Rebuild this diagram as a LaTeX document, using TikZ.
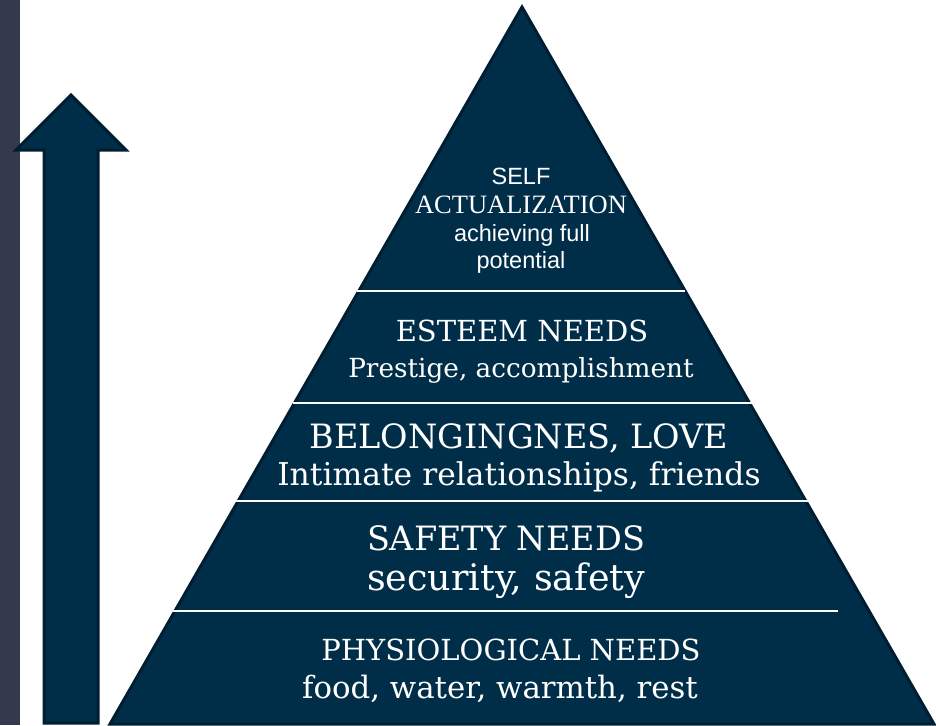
\documentclass[tikz,border=0pt]{standalone}
\usepackage{fontspec}
\setmainfont{DejaVu Serif}
\newfontfamily\tipsans{Liberation Sans}
\newfontfamily\tipserif{Liberation Serif}
\usetikzlibrary{positioning}
\definecolor{navy}{RGB}{0,46,73}
\definecolor{navyedge}{RGB}{0,30,50}
\definecolor{slate}{RGB}{52,57,77}
\newcommand{\fsz}[1]{\fontsize{#1}{#1}\selectfont}

\begin{document}
\begin{tikzpicture}[x=1pt, y=-1pt,
  level/.style={text=white, anchor=base, inner sep=0pt},
  big/.style={level, font=\fsz{33.5}},
  small/.style={level, font=\fsz{29}},
  tip/.style={level, font=\tipsans\fsz{23.5}},
  divider/.style={white, line width=2pt}]
  \useasboundingbox (0,0) rectangle (936,725);

  \fill[slate] (0,0) rectangle (20,725);
  \filldraw[fill=navy, draw=navyedge, line width=3pt]
    (44,723) -- (44,150) -- (16,150) -- (71,95) -- (126,150) -- (98,150) -- (98,723) -- cycle;
  \filldraw[fill=navy, draw=navyedge, line width=3pt]
    (522,7) -- (934,724) -- (110,724) -- cycle;

  \draw[divider] (357,291) -- (685,291);
  \draw[divider] (293,403) -- (753,403);
  \draw[divider] (232,501) -- (808,501);
  \draw[divider] (173,611) -- (838,611);

  \node[tip] (self) at (521,184) {SELF};
  \node[level, font=\tipserif\fsz{26.5}] (actual) at (521,213) {ACTUALIZATION};
  \node[tip] (achieving) at (522,241) {achieving full};
  \node[tip] (potential) at (521,268) {potential};

  \node[small] (esteem) at (522,341) {ESTEEM NEEDS};
  \node[small, font=\fsz{26.3}] (prestige) at (521,377) {Prestige, accomplishment};

  \node[big] (belong) at (519,448) {BELONGINGNES, LOVE};
  \node[big, font=\fsz{31.4}] (intimate) at (519,485) {Intimate relationships, friends};

  \node[big] (safety) at (506,550) {SAFETY NEEDS};
  \node[big, font=\fsz{36.5}] (security) at (506,590) {security, safety};

  \node[small] (physio) at (511,660) {PHYSIOLOGICAL NEEDS};
  \node[small, font=\fsz{30.8}] (food) at (500,698) {food, water, warmth, rest};
\end{tikzpicture}
\end{document}
